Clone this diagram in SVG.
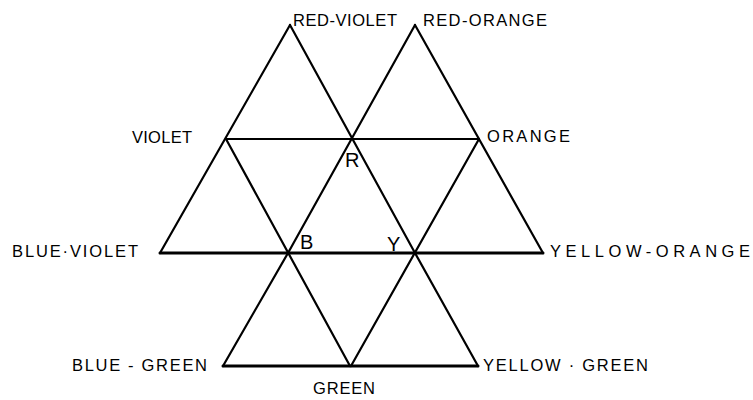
<svg xmlns="http://www.w3.org/2000/svg" width="753" height="400" viewBox="0 0 753 400">
<style>
.ln{stroke:#000;stroke-width:2.2;fill:none;stroke-linecap:round}
.thick{stroke-width:3}
text{font-family:"Liberation Sans",Arial,sans-serif;font-size:16.5px;fill:#000}
.pt{font-size:20px}
</style>
<rect width="753" height="400" fill="#fff"/>
<g id="connectors">
<line class="ln" x1="290" y1="25" x2="160" y2="253"/>
<line class="ln" x1="290" y1="25" x2="415" y2="253"/>
<line class="ln" x1="415" y1="25" x2="288" y2="253"/>
<line class="ln" x1="415" y1="25" x2="543" y2="253"/>
<line class="ln" x1="226" y1="139" x2="479" y2="139"/>
<line class="ln thick" x1="160" y1="253" x2="543" y2="253"/>
<line class="ln" x1="226" y1="139" x2="350" y2="366"/>
<line class="ln" x1="479" y1="139" x2="351" y2="366"/>
<line class="ln" x1="288" y1="253" x2="223" y2="366"/>
<line class="ln" x1="415" y1="253" x2="478" y2="366"/>
<line class="ln thick" x1="223" y1="366" x2="478" y2="366"/>
</g>
<g id="red-violet"><text x="293" y="26" textLength="104">RED-VIOLET</text></g>
<g id="red-orange"><text x="423" y="26" textLength="124">RED-ORANGE</text></g>
<g id="violet"><text x="132" y="143" textLength="60">VIOLET</text></g>
<g id="orange"><text x="487" y="142" textLength="83">ORANGE</text></g>
<g id="r"><text class="pt" x="345" y="167">R</text></g>
<g id="blue-violet"><text x="12" y="257" textLength="126">BLUE·VIOLET</text></g>
<g id="b"><text class="pt" x="300" y="249">B</text></g>
<g id="y"><text class="pt" x="387" y="251">Y</text></g>
<g id="yellow-orange"><text x="550" y="257" textLength="200">YELLOW-ORANGE</text></g>
<g id="blue-green"><text x="72" y="371" textLength="135">BLUE - GREEN</text></g>
<g id="yellow-green"><text x="483" y="371" textLength="165">YELLOW · GREEN</text></g>
<g id="green"><text x="313" y="394" textLength="62">GREEN</text></g>
</svg>
